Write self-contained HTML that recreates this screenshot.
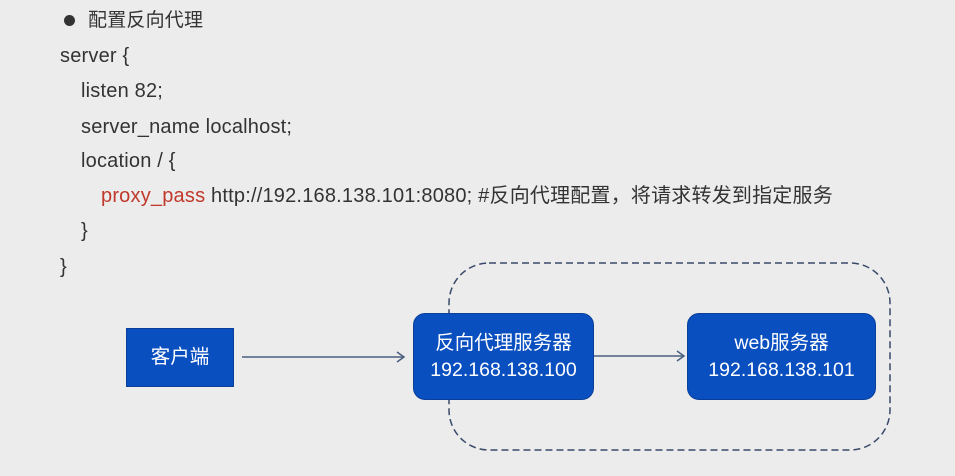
<!DOCTYPE html>
<html><head><meta charset="utf-8"><style>
body{margin:0;width:955px;height:476px;background:#ececec;overflow:hidden;position:relative;font-family:"Liberation Sans","Noto Sans CJK SC",sans-serif;color:#333;}
.t{position:absolute;font-size:20px;white-space:nowrap;line-height:22px;letter-spacing:0.2px;}
.box{position:absolute;background:#0a4fc0;color:#fff;display:flex;flex-direction:column;align-items:center;justify-content:center;text-align:center;font-size:19.5px;line-height:27px;border:1px solid #0a3f9a;box-sizing:border-box;}
</style></head><body>
<div style="position:absolute;left:64px;top:15px;width:11px;height:11px;border-radius:50%;background:#333"></div>
<div class="t" style="left:88px;top:10px;font-size:19px">配置反向代理</div>
<div class="t" style="left:60px;top:45px">server {</div>
<div class="t" style="left:81px;top:80px">listen 82;</div>
<div class="t" style="left:81px;top:116px">server_name localhost;</div>
<div class="t" style="left:81px;top:150px">location / {</div>
<div class="t" style="left:101px;top:185px"><span style="color:#c0392b">proxy_pass</span> http://192.168.138.101:8080; #反向代理配置，将请求转发到指定服务</div>
<div class="t" style="left:81px;top:220px">}</div>
<div class="t" style="left:60px;top:256px">}</div>
<svg width="955" height="476" style="position:absolute;left:0;top:0">
<rect x="449" y="263" width="441" height="187" rx="40" fill="none" stroke="#3a4a6a" stroke-width="1.5" stroke-dasharray="7,4"/>
<line x1="242" y1="357" x2="404" y2="357" stroke="#4a5f80" stroke-width="1.5"/>
<polyline points="397,352 404,357 397,362" fill="none" stroke="#4a5f80" stroke-width="1.5"/>
<line x1="594" y1="356" x2="684" y2="356" stroke="#4a5f80" stroke-width="1.5"/>
<polyline points="677,351 684,356 677,361" fill="none" stroke="#4a5f80" stroke-width="1.5"/>
</svg>
<div class="box" style="left:126px;top:328px;width:108px;height:59px">客户端</div>
<div class="box" style="left:413px;top:313px;width:181px;height:87px;border-radius:12px"><div>反向代理服务器<br>192.168.138.100</div></div>
<div class="box" style="left:687px;top:313px;width:189px;height:87px;border-radius:12px"><div>web服务器<br>192.168.138.101</div></div>
</body></html>
